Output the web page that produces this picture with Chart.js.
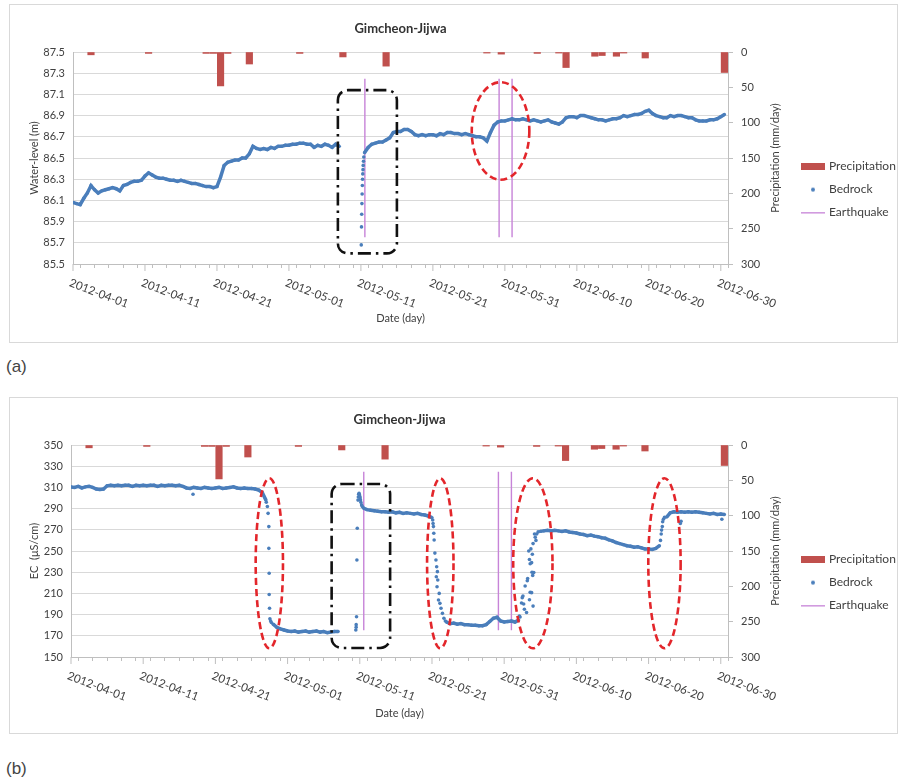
<!DOCTYPE html>
<html>
<head>
<meta charset="utf-8">
<title>Gimcheon-Jijwa</title>
<script src="https://cdn.jsdelivr.net/npm/chart.js@4.4.1/dist/chart.umd.min.js"></script>
<style>
  body { margin: 0; background: #fff; width: 899px; height: 782px; position: relative; overflow: hidden; }
  .panel { position: absolute; left: 9px; width: 887px; border: 1px solid #d9d9d9; }
  #panelA { top: 4px; height: 337px; }
  #panelB { top: 397px; height: 335px; }
  .panel canvas { position: absolute; left: 0; top: 0; }
  .tag { position: absolute; left: 6px; font: 17px "Liberation Sans", sans-serif; color: #444; }
</style>
</head>
<body>
<div class="panel" id="panelA"><canvas id="chartA" width="887" height="337"></canvas></div>
<div class="tag" style="top:357px">(a)</div>
<div class="panel" id="panelB"><canvas id="chartB" width="887" height="335"></canvas></div>
<div class="tag" style="top:759px">(b)</div>
<script>
// days counted from 2012-04-01 00:00
const dateLabels = ['2012-04-01', '2012-04-11', '2012-04-21', '2012-05-01', '2012-05-11',
                    '2012-05-21', '2012-05-31', '2012-06-10', '2012-06-20', '2012-06-30']
const labelDays = [0, 10, 20, 30, 40, 50, 60, 70, 80, 90]

// daily precipitation (mm/day)
const rainDays = [2, 10, 18, 19, 20, 21, 24, 31, 37, 43, 57, 59, 64, 67, 68, 72, 73, 75, 76, 79, 90]
const rainMm = [4, 2, 2, 2, 48, 2, 17, 2, 7, 20, 1.5, 3, 2, 1.5, 22, 6, 5, 6, 1.5, 8.5, 29]

// earthquakes, drawn on the precipitation axis
const quakeDays = [40.55, 59.2, 61.0]
const quakeSpan = [38, 262]

// bedrock readings every half day (null = no reading)
const sampleStep = 0.5
const levelValues = [
  86.08, 86.07, 86.06, 86.12, 86.17, 86.24, 86.20, 86.17, 86.19, 86.20,
  86.21, 86.22, 86.21, 86.19, 86.24, 86.25, 86.27, 86.28, 86.28, 86.29,
  86.33, 86.36, 86.34, 86.32, 86.31, 86.31, 86.30, 86.29, 86.29, 86.28,
  86.29, 86.28, 86.27, 86.26, 86.26, 86.25, 86.24, 86.23, 86.23, 86.22,
  86.23, 86.32, 86.43, 86.46, 86.47, 86.48, 86.48, 86.50, 86.50, 86.54,
  86.61, 86.59, 86.58, 86.59, 86.58, 86.60, 86.59, 86.61, 86.61, 86.62,
  86.62, 86.63, 86.63, 86.64, 86.64, 86.63, 86.63, 86.60, 86.62, 86.61,
  86.63, 86.62, 86.60, 86.63, 86.61, null, null, null, null, null,
  null, 86.55, 86.60, 86.63, 86.64, 86.65, 86.65, 86.67, 86.69, 86.74,
  86.75, 86.75, 86.77, 86.77, 86.75, 86.72, 86.71, 86.72, 86.71, 86.72,
  86.72, 86.71, 86.73, 86.72, 86.74, 86.74, 86.73, 86.73, 86.72, 86.73,
  86.72, 86.71, 86.70, 86.70, 86.69, 86.66, 86.74, 86.81, 86.84, 86.85,
  86.85, 86.86, 86.87, 86.86, 86.86, 86.87, 86.86, 86.85, 86.86, 86.85,
  86.84, 86.85, 86.86, 86.84, 86.83, 86.82, 86.84, 86.88, 86.89, 86.89,
  86.88, 86.90, 86.90, 86.89, 86.88, 86.87, 86.86, 86.86, 86.85, 86.86,
  86.87, 86.87, 86.88, 86.90, 86.89, 86.90, 86.91, 86.91, 86.92, 86.94,
  86.95, 86.92, 86.90, 86.89, 86.88, 86.88, 86.90, 86.89, 86.90, 86.90,
  86.89, 86.88, 86.88, 86.86, 86.85, 86.85, 86.85, 86.86, 86.86, 86.87,
  86.89, 86.91
]
// hourly readings during the fast change
const levelJumpDays = [40.05, 40.08, 40.11, 40.14, 40.17, 40.2, 40.23, 40.26, 40.29, 40.32, 40.36, 40.4]
const levelJumpValues = [85.68, 85.85, 85.97, 86.07, 86.16, 86.24, 86.30, 86.35, 86.39, 86.43, 86.47, 86.51]

const ecValues = [
  310.5, 310.0, 311.0, 309.5, 310.5, 311.0, 310.0, 308.5, 308.0, 308.5,
  311.5, 312.0, 311.5, 312.0, 311.5, 312.0, 312.0, 311.0, 312.0, 311.5,
  312.0, 311.5, 312.0, 312.0, 311.0, 312.0, 311.5, 312.0, 312.0, 311.5,
  312.0, 311.0, 309.5, 309.0, 310.0, 309.5, 309.0, 310.0, 309.5, 309.0,
  309.5, 310.0, 309.0, 309.5, 310.0, 310.5, 309.5, 309.0, 309.5, 309.0,
  309.0, 308.5, 307.5, 305.0, 298.0, null, 181.0, 178.0, 176.5, 175.5,
  174.5, 174.0, 174.5, 173.5, 174.0, 174.5, 173.5, 174.0, 174.5, 173.5,
  174.0, 173.0, 173.5, 174.0, 174.0, null, null, null, null, null,
  null, 290.5, 289.0, 288.5, 288.0, 287.5, 287.0, 287.0, 286.5, 287.0,
  286.0, 286.5, 285.5, 286.0, 285.5, 285.0, 285.5, 284.5, 284.0, 283.0,
  281.5, null, null, null, 183.0, 181.5, 182.0, 181.0, 181.5, 180.5,
  180.5, 180.0, 180.0, 179.5, 179.5, 180.5, 183.5, 186.5, 187.5, 184.0,
  183.0, 183.5, 184.0, 183.0, 185.0, null, null, null, null, null,
  268.5, 269.0, 269.5, 269.0, 269.5, 269.0, 268.5, 269.0, 268.0, 267.5,
  267.0, 266.0, 265.5, 264.5, 265.0, 264.0, 263.5, 262.5, 262.0, 260.5,
  259.5, 258.0, 257.0, 256.0, 255.0, 254.5, 253.5, 254.0, 253.0, 252.0,
  252.0, 251.5, 252.5, 255.0, null, 282.0, 286.0, 287.0, 286.5, 287.0,
  286.5, 287.0, 286.5, 287.0, 286.5, 286.0, 285.5, 285.0, 285.5, 284.5,
  285.0, 284.5
]
const ecJumpDays = [
  16.9,
  27.05, 27.2, 27.3, 27.4, 27.4, 27.45, 27.45, 27.5, 27.55, 27.65, 27.75,
  39.45, 39.5, 39.5, 39.55, 39.6, 39.65, 39.75, 39.8, 39.85, 39.9, 39.95, 40.0, 40.05, 40.1, 40.15, 40.25, 40.35,
  50.1, 50.15, 50.2, 50.25, 50.3, 50.4, 50.55, 50.65, 50.75, 50.6, 50.8, 50.7, 51.0, 50.9, 51.1, 51.25, 51.45, 51.65, 51.85,
  62.1, 62.2, 62.4, 62.5, 62.6, 62.7, 62.8, 62.9, 63.1, 63.2, 63.25, 63.4, 63.5, 63.5, 63.6, 63.6, 63.7, 63.8, 63.8,
  63.85, 63.9, 63.95, 64.0, 64.0, 64.1, 64.2, 64.3, 64.4, 64.5, 64.7,
  81.65, 81.75, 81.8, 81.9, 81.95, 82.05, 82.2, 84.4, 84.5, 90.15
]
const ecJumpValues = [
  303.5,
  296, 292, 285.5, 273, 252.5, 229, 209, 196, 186, 184, 182.5,
  175.5, 178, 180.5, 188, 241.5, 271.5, 298, 301, 303.5, 304.5, 303, 301.5, 300, 298, 296, 293.5, 292,
  279.2, 276, 273, 266.7, 260.4, 248, 241.5, 235.2, 230.5, 225.7, 222.6, 216.3, 210, 203.8, 200.6, 196, 191.2, 186.5, 184,
  188.7, 187.8, 201, 206, 207.6, 200, 195, 217, 192, 222, 224, 250, 242, 204, 211, 238, 252, 239, 210.7,
  230, 247, 227, 198, 257, 229.7, 266, 263, 260, 266, 268,
  260, 266, 269.7, 273, 277.6, 280, 281.7, 276, 278, 280
]

const BLUE = '#4a7ebb'
const RED = '#c0504d'
const PURPLE = '#c784d8'
const TEXT = '#404040'
const AXIS = '#bfbfbf'

Chart.defaults.font.family = 'Lato, sans-serif'
Chart.defaults.font.size = 11
Chart.defaults.color = TEXT

function sampled(values) {
  return values.map((v, i) => ({ x: i * sampleStep, y: v }))
}
function paired(days, values) {
  return days.map((d, i) => ({ x: d, y: values[i] }))
}

function icon(w, h, paint) {
  const c = document.createElement('canvas')
  c.width = w
  c.height = h
  paint(c.getContext('2d'))
  return c
}
const legendNames = ['Precipitation', 'Bedrock', 'Earthquake']
const legendIcons = [
  icon(24, 7, g => { g.fillStyle = RED; g.fillRect(0, 0, 24, 7) }),
  icon(24, 6, g => { g.fillStyle = BLUE; g.beginPath(); g.arc(12, 3, 2, 0, Math.PI * 2); g.fill() }),
  icon(24, 2, g => { g.fillStyle = PURPLE; g.fillRect(0, 0, 24, 1.5) })
]

const minorTicks = []
for (let d = 0; d <= 90; d += 2) minorTicks.push({ value: d })

// annotations, rotated date labels, right axis title
const decor = {
  id: 'decor',
  afterDatasetsDraw(chart, args, opts) {
    const { ctx } = chart
    const x = chart.scales.x
    const y = chart.scales.y
    ctx.save()
    ctx.lineWidth = 2.6
    ctx.strokeStyle = '#e3262b'
    ctx.setLineDash([7, 4])
    opts.ellipses.forEach(e => {
      const cx = x.getPixelForValue(e.cx)
      const cy = y.getPixelForValue(e.cy)
      const rx = Math.abs(x.getPixelForValue(e.cx + e.rx) - cx)
      const ry = Math.abs(y.getPixelForValue(e.cy + e.ry) - cy)
      ctx.beginPath()
      ctx.ellipse(cx, cy, rx, ry, 0, 0, Math.PI * 2)
      ctx.stroke()
    })
    ctx.strokeStyle = '#111'
    ctx.setLineDash([13, 5, 2.5, 5])
    opts.boxes.forEach(b => {
      const l = x.getPixelForValue(b.x0)
      const r = x.getPixelForValue(b.x1)
      const t = y.getPixelForValue(b.y1)
      const btm = y.getPixelForValue(b.y0)
      ctx.beginPath()
      ctx.roundRect(l, t, r - l, btm - t, 10)
      ctx.stroke()
    })
    ctx.restore()
  },
  afterDraw(chart, args, opts) {
    const { ctx, chartArea } = chart
    const x = chart.scales.x
    const yP = chart.scales.yP
    ctx.save()
    ctx.strokeStyle = AXIS
    ctx.lineWidth = 1
    ctx.fillStyle = TEXT
    ctx.font = '11.5px Lato, sans-serif'
    labelDays.forEach((d, i) => {
      const px = x.getPixelForValue(d)
      ctx.beginPath()
      ctx.moveTo(px, x.top)
      ctx.lineTo(px, x.top + 7)
      ctx.stroke()
      ctx.save()
      ctx.translate(px - 1, x.top + 13)
      ctx.rotate(21 * Math.PI / 180)
      ctx.textAlign = 'left'
      ctx.textBaseline = 'top'
      ctx.fillText(dateLabels[i], 0, 0)
      ctx.restore()
    })
    ctx.font = '11px Lato, sans-serif'
    ctx.translate(yP.left + 47, (chartArea.top + chartArea.bottom) / 2)
    ctx.rotate(-Math.PI / 2)
    ctx.textAlign = 'center'
    ctx.textBaseline = 'middle'
    ctx.fillText('Precipitation (mm/day)', 0, 0)
    ctx.restore()
  }
}

function buildChart(id, o) {
  const quakeData = []
  quakeDays.forEach(d => {
    quakeData.push({ x: d, y: quakeSpan[0] }, { x: d, y: quakeSpan[1] }, { x: d, y: null })
  })
  return new Chart(document.getElementById(id), {
    type: 'scatter',
    data: {
      datasets: [
        {
          type: 'bar', label: 'Precipitation', yAxisID: 'yP',
          data: paired(rainDays.map(d => d + 0.5), rainMm),
          backgroundColor: RED, barThickness: 6.5, grouped: false, order: 3
        },
        {
          label: 'Bedrock', yAxisID: 'y', data: sampled(o.values),
          showLine: true, borderColor: BLUE, borderWidth: 3.5,
          pointRadius: 1.7, pointBackgroundColor: BLUE, pointBorderWidth: 0, order: 1
        },
        {
          label: 'Earthquake', yAxisID: 'yP', data: quakeData,
          showLine: true, borderColor: PURPLE, borderWidth: 1.4, pointRadius: 0, order: 2
        },
        {
          label: 'Bedrock hourly', yAxisID: 'y', data: paired(o.jumpDays, o.jumpValues),
          pointRadius: 1.8, pointBackgroundColor: BLUE, pointBorderWidth: 0, order: 1
        }
      ]
    },
    options: {
      responsive: false,
      animation: false,
      events: [],
      layout: { padding: { left: 10, right: 0, top: 0, bottom: 0 } },
      scales: {
        x: {
          type: 'linear', min: 0, max: 91, offset: false,
          afterBuildTicks: s => { s.ticks = minorTicks.map(t => ({ value: t.value })) },
          ticks: { display: false },
          grid: { drawOnChartArea: false, tickLength: 4, color: AXIS },
          border: { color: AXIS },
          title: { display: true, text: 'Date (day)', padding: { top: 0, bottom: o.dateGap } },
          afterFit: s => { s.height = o.xHeight }
        },
        y: {
          position: 'left', min: o.min, max: o.max,
          ticks: { stepSize: o.step, padding: 8, callback: v => v.toFixed(o.decimals) },
          grid: { color: '#d9d9d9', drawTicks: false },
          border: { color: AXIS },
          title: { display: true, text: o.yTitle, padding: { top: 8, bottom: 0 } },
          afterFit: s => { s.width = o.leftWidth }
        },
        yP: {
          position: 'right', min: 0, max: 300, reverse: true,
          ticks: { stepSize: 50, padding: 8 },
          grid: { drawOnChartArea: false, tickLength: 5, color: AXIS },
          border: { color: AXIS },
          afterFit: s => { s.width = s.chart.width - s.chart.legend.width - 718 }
        }
      },
      plugins: {
        title: {
          display: true, text: 'Gimcheon-Jijwa', fullSize: false, color: '#333',
          font: { size: 13, weight: 'bold' }, padding: o.titlePad
        },
        legend: {
          position: 'right',
          maxWidth: 105,
          title: { display: true, text: ' ', padding: { top: o.legendShift, bottom: 0 } },
          labels: {
            usePointStyle: true, pointStyleWidth: 20, boxHeight: 7, padding: 11,
            font: { size: 12 }, color: TEXT,
            generateLabels: () => legendNames.map((name, i) => ({
              text: name, pointStyle: legendIcons[i], fillStyle: 'transparent',
              strokeStyle: 'transparent', lineWidth: 0, hidden: false, datasetIndex: i, fontColor: TEXT
            }))
          }
        },
        tooltip: { enabled: false },
        decor: { ellipses: o.ellipses, boxes: o.boxes }
      }
    },
    plugins: [decor]
  })
}

buildChart('chartA', {
  values: levelValues, jumpDays: levelJumpDays, jumpValues: levelJumpValues,
  min: 85.5, max: 87.5, step: 0.2, decimals: 1, yTitle: 'Water-level (m)',
  leftWidth: 53, xHeight: 78, dateGap: 17, titlePad: { top: 16, bottom: 15.4 }, legendShift: 19,
  ellipses: [{ cx: 59.4, cy: 86.755, rx: 4.0, ry: 0.46 }],
  boxes: [{ x0: 36.8, x1: 45.0, y0: 85.60, y1: 87.14 }]
})

buildChart('chartB', {
  values: ecValues, jumpDays: ecJumpDays, jumpValues: ecJumpValues,
  min: 150, max: 350, step: 20, decimals: 0, yTitle: 'EC  (\u03bcS/cm)',
  leftWidth: 51, xHeight: 76, dateGap: 13, titlePad: { top: 14, bottom: 17.4 }, legendShift: 21,
  ellipses: [
    { cx: 27.47, cy: 238.4, rx: 1.89, ry: 80.2 },
    { cx: 51.15, cy: 238.4, rx: 1.83, ry: 80.2 },
    { cx: 63.97, cy: 238.4, rx: 2.72, ry: 80.2 },
    { cx: 82.2, cy: 238.4, rx: 2.24, ry: 80.2 }
  ],
  boxes: [{ x0: 36.1, x1: 44.2, y0: 158.5, y1: 313.2 }]
})
</script>
</body>
</html>
